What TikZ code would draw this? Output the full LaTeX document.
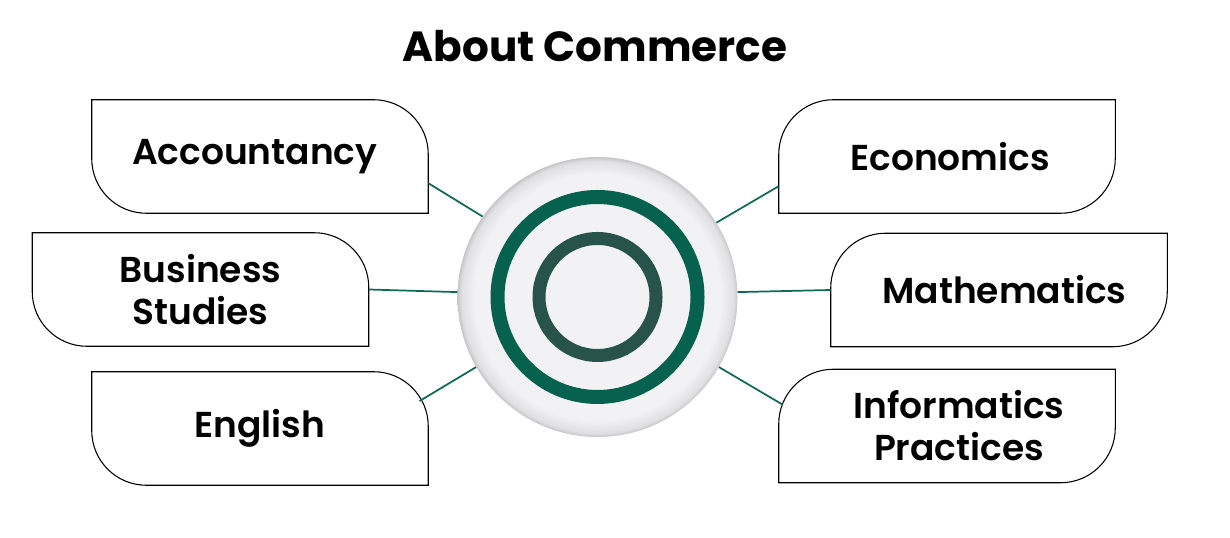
\documentclass[tikz,border=0pt]{standalone}
\usepackage{fontspec}
\setmainfont{Poppins}
\newfontfamily\cardfont{Poppins SemiBold}
\usepackage{xcolor}
\usepackage{tikz}
\definecolor{ringgreen}{HTML}{07614F}
\definecolor{ringdark}{HTML}{27534A}
\definecolor{linkgreen}{HTML}{0B6B55}
\definecolor{hubfill}{HTML}{F2F2F4}
\definecolor{hubrim}{HTML}{E0E0E3}
\definecolor{hubedge}{HTML}{C6C6C9}
\pgfdeclareradialshading{hubshade}{\pgfpoint{0bp}{0bp}}{color(0bp)=(hubfill); color(22bp)=(hubfill); color(24.3bp)=(hubrim); color(25bp)=(hubedge); color(50bp)=(hubedge)}
\tikzset{
  card/.style={minimum width=252pt, minimum height=84.75pt, inner sep=0pt, align=center, font=\cardfont\fontsize{27}{31.5}\selectfont},
  cardline/.style={draw=black, line width=0.8pt},
  link/.style={draw=linkgreen, line width=1.3pt},
}
\newcommand\cardr{41pt}
\newcommand\leftcard[1]{\draw[cardline] (#1.north west) -- ([xshift=-\cardr]#1.north east) arc[start angle=90,end angle=0,radius=\cardr] -- (#1.south east) -- ([xshift=\cardr]#1.south west) arc[start angle=270,end angle=180,radius=\cardr] -- cycle;}
\newcommand\rightcard[1]{\draw[cardline] ([xshift=\cardr]#1.north west) -- (#1.north east) -- ([yshift=\cardr]#1.south east) arc[start angle=0,end angle=-90,radius=\cardr] -- (#1.south west) -- ([yshift=-\cardr]#1.north west) arc[start angle=180,end angle=90,radius=\cardr] -- cycle;}
\begin{document}
\begin{tikzpicture}[x=0.75pt, y=0.75pt]
\useasboundingbox (0,0) rectangle (1230,538);
\node[anchor=base, font=\bfseries\fontsize{31.6}{36}\selectfont] (title) at (595,476) {About Commerce};
\node[circle, minimum size=210pt, shading=hubshade] (hub) at (597.5,241) {};
\draw[ringgreen, line width=10.5pt] (hub.center) circle[radius=100];
\draw[ringdark, line width=9.75pt] (hub.center) circle[radius=58.5];
\node[card] (acc) at (260,381.5) {Accountancy\kern8pt};
\node[card] (bus) at (200.5,248.5) {Business\\Studies};
\node[card] (eng) at (260,109.5) {English};
\node[card] (eco) at (947,381.5) {\kern4.5pt Economics};
\node[card] (mat) at (999,248) {\kern8pt Mathematics};
\node[card] (inf) at (947,112) {\kern18pt Informatics\\\kern18pt Practices};
\leftcard{acc}
\leftcard{bus}
\leftcard{eng}
\rightcard{eco}
\rightcard{mat}
\rightcard{inf}
\draw[link] (hub.145.1) -- (acc.-9.3);
\draw[link] (hub.178) -- (bus.east);
\draw[link, shorten >=-7.65pt] (hub.210.2) -- (eng.11.9);
\draw[link] (hub.32.1) -- (eco.190.3);
\draw[link] (hub.2) -- (mat.west);
\draw[link, shorten >=-3.45pt] (hub.-30.5) -- (inf.172.1);
\end{tikzpicture}
\end{document}
